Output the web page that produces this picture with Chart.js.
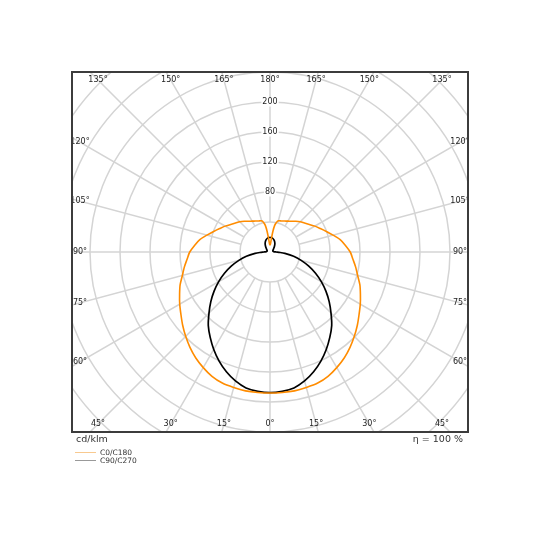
<!DOCTYPE html>
<html>
<head>
<meta charset="utf-8">
<script src="https://cdn.jsdelivr.net/npm/chart.js@4/dist/chart.umd.min.js"></script>
<style>
  body { margin: 0; background: #fff; font-family: "DejaVu Sans", sans-serif; }
  #wrap { position: relative; width: 540px; height: 540px; }
  .txt { position: absolute; color: #333; white-space: nowrap; }
  .leg { position: absolute; font-size: 7.5px; color: #333; }
  .leg i { display: inline-block; width: 21px; height: 0; border-top: 1px solid; vertical-align: middle; margin-right: 4px; }
</style>
</head>
<body>
<div id="wrap">
  <canvas id="polar" width="540" height="540"></canvas>
  <div class="txt" style="left:76px; top:433px; font-size:9.5px;">cd/klm</div>
  <div class="txt" style="right:77px; top:433px; font-size:9.5px;">η = 100 %</div>
  <div class="leg" style="left:75px; top:448px;"><i style="border-color:#f8c98f"></i>C0/C180</div>
  <div class="leg" style="left:75px; top:456px;"><i style="border-color:#999"></i>C90/C270</div>
</div>
<script>
// gamma angles (deg, 0 = straight down) and intensities in cd/klm
var gammaC0 = [0, 5, 10, 15, 20, 25, 30, 35, 40, 45, 50, 55, 60, 65, 70, 75, 80, 85, 90,
               95, 100, 105, 110, 115, 120, 125, 130, 135, 140, 145, 150, 155, 160, 165, 168, 170, 172, 174, 176, 178, 180];
var intensC0 = [188, 188, 188, 187, 186, 183, 178, 172.5, 166, 159, 152, 145, 139, 133, 127.5, 121, 116, 111, 107,
                101, 95, 87, 80, 74, 69, 64, 60, 57, 53.5, 50, 47.5, 45.5, 44, 43, 40, 36, 28, 18, 12, 10, 9];

var gammaC90 = [0, 5, 10, 15, 20, 25, 30, 35, 40, 45, 50, 55, 60, 65, 70, 75, 80, 85, 88, 90,
                95, 100, 110, 120, 130, 140, 150, 160, 170, 180];
var intensC90 = [187.5, 186.5, 184, 178, 170, 160.5, 150, 139, 128, 115, 103, 91, 79, 67, 55, 43, 32, 20, 12, 8,
                 5, 4.5, 4, 4.5, 6, 9, 13, 16.5, 18.8, 19.6];

var ringValues = [40, 80, 120, 160, 200, 240, 280, 320, 360];
var ringLabels = [80, 120, 160, 200];
var spokeAngles = [0, 15, 30, 45, 60, 75, 90, 105, 120, 135, 150, 165, 180];

var seriesNames = ['C0/C180', 'C90/C270'];

function toPoints(gammas, values) {
    // left half (C180 / C270) from 180 down to 0, then right half (C0 / C90) back up
    var pts = [];
    for (var i = gammas.length - 1; i >= 0; i--) {
        var a = gammas[i] * Math.PI / 180;
        pts.push({x: -values[i] * Math.sin(a), y: -values[i] * Math.cos(a)});
    }
    for (var j = 1; j < gammas.length; j++) {
        var b = gammas[j] * Math.PI / 180;
        pts.push({x: values[j] * Math.sin(b), y: -values[j] * Math.cos(b)});
    }
    return pts;
}

var polarGrid = {
    id: 'polarGrid',
    beforeDatasetsDraw: function(chart) {
        var ctx = chart.ctx, area = chart.chartArea;
        var sx = chart.scales.x, sy = chart.scales.y;
        var cx = sx.getPixelForValue(0), cy = sy.getPixelForValue(0);
        var k = sx.getPixelForValue(1) - cx;
        ctx.save();
        ctx.beginPath();
        ctx.rect(area.left, area.top, area.right - area.left, area.bottom - area.top);
        ctx.clip();
        ctx.strokeStyle = '#d4d4d4';
        ctx.lineWidth = 1.5;
        ringValues.forEach(function(r) {
            ctx.beginPath();
            ctx.arc(cx, cy, r * k, 0, Math.PI * 2);
            ctx.stroke();
        });
        for (var g = 0; g < 360; g += 15) {
            var a = g * Math.PI / 180;
            var r0 = ringValues[0] * k, r1 = 420 * k;
            ctx.beginPath();
            ctx.moveTo(cx + Math.sin(a) * r0, cy + Math.cos(a) * r0);
            ctx.lineTo(cx + Math.sin(a) * r1, cy + Math.cos(a) * r1);
            ctx.stroke();
        }
        ctx.restore();
    },
    afterDatasetsDraw: function(chart) {
        var ctx = chart.ctx, area = chart.chartArea;
        var sx = chart.scales.x, sy = chart.scales.y;
        var cx = sx.getPixelForValue(0), cy = sy.getPixelForValue(0);
        var k = sx.getPixelForValue(1) - cx;
        ctx.save();
        ctx.beginPath();
        ctx.rect(area.left, area.top, area.right - area.left, area.bottom - area.top);
        ctx.clip();
        ctx.font = '8px "DejaVu Sans"';
        ctx.textAlign = 'center';
        ctx.textBaseline = 'middle';

        // intensity labels up the 180 axis
        ringLabels.forEach(function(v) {
            var y = cy - v * k;
            var w = ctx.measureText(String(v)).width;
            ctx.fillStyle = '#fff';
            ctx.fillRect(cx - w / 2 - 1, y - 4.5, w + 2, 9);
            ctx.fillStyle = '#222';
            ctx.fillText(String(v), cx, y);
        });

        // angle labels where the spokes meet the frame
        var inset = 8;
        var halfW = (area.right - area.left) / 2 - inset;
        var halfH = (area.bottom - area.top) / 2 - inset;
        [-1, 1].forEach(function(side) {
            spokeAngles.forEach(function(g) {
                if (side < 0 && (g === 0 || g === 180)) return;
                var a = g * Math.PI / 180;
                var dx = side * Math.sin(a), dy = Math.cos(a);
                var t = Infinity;
                if (Math.abs(dx) > 1e-6) t = Math.min(t, halfW / Math.abs(dx));
                if (Math.abs(dy) > 1e-6) t = Math.min(t, halfH / Math.abs(dy));
                ctx.fillStyle = '#222';
                ctx.fillText(g + '°', cx + dx * t, cy + dy * t);
            });
        });
        ctx.restore();

        // frame
        ctx.save();
        ctx.strokeStyle = '#3c3c3c';
        ctx.lineWidth = 2;
        ctx.strokeRect(area.left, area.top, area.right - area.left, area.bottom - area.top);
        ctx.restore();
    }
};

var ctx = document.getElementById('polar').getContext('2d');
var chart = new Chart(ctx, {
    type: 'scatter',
    data: {
        datasets: [{
            label: seriesNames[0],
            data: toPoints(gammaC0, intensC0),
            borderColor: '#ff8c00',
            borderWidth: 1.6,
            showLine: true,
            pointRadius: 0,
            tension: 0.3
        }, {
            label: seriesNames[1],
            data: toPoints(gammaC90, intensC90),
            borderColor: '#000',
            borderWidth: 1.7,
            showLine: true,
            pointRadius: 0,
            tension: 0.3
        }]
    },
    options: {
        responsive: false,
        animation: false,
        layout: { padding: { left: 72, top: 72, right: 72, bottom: 108 } },
        scales: {
            x: { type: 'linear', min: -264, max: 264, display: false },
            y: { type: 'linear', min: -240, max: 240, display: false }
        },
        plugins: { legend: { display: false }, tooltip: { enabled: false } }
    },
    plugins: [polarGrid]
});
</script>
</body>
</html>
